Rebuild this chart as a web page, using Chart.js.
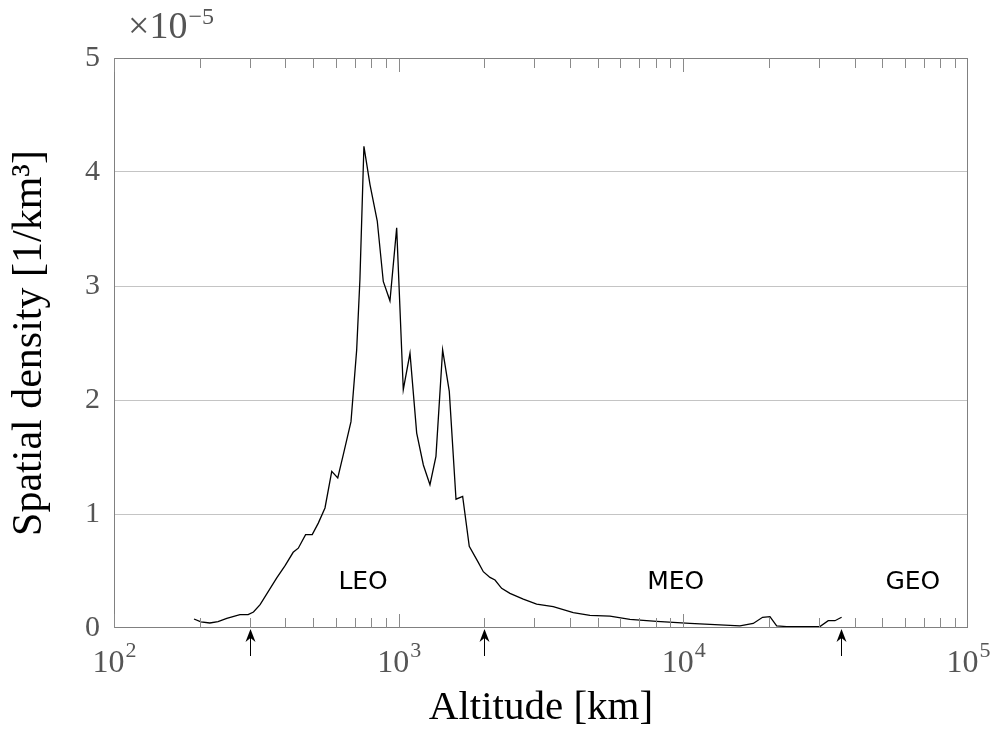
<!DOCTYPE html>
<html>
<head>
<meta charset="utf-8">
<script src="https://cdn.jsdelivr.net/npm/chart.js@4.4.1/dist/chart.umd.min.js"></script>
<style>
  body { margin: 0; background: #fff; }
  #wrap { width: 998px; height: 734px; position: relative; }
</style>
</head>
<body>
<div id="wrap"><canvas id="myChart"></canvas></div>
<script>
// altitude in km, density in units of 1e-5 per km^3
const altitudeKm = [191, 202, 217, 232, 249, 277, 296, 309, 326, 373, 399, 426, 444, 471, 497, 522, 551, 582, 611, 639,
  680, 712, 731, 755, 793, 841, 883, 932, 984, 1038, 1096, 1157, 1221, 1288, 1352, 1427, 1506, 1590, 1678, 1770,
  1904, 1983, 2093, 2180, 2300, 2460, 2740, 3053, 3491, 4106, 4698, 5524, 6492, 8057, 10549, 15808, 17601, 18985,
  20150, 21275, 23063, 30184, 32285, 34080, 35975];
const density = [0.079, 0.053, 0.044, 0.056, 0.085, 0.117, 0.117, 0.14, 0.205, 0.44, 0.547, 0.664, 0.70, 0.819, 0.819, 0.92,
  1.053, 1.374, 1.316, 1.52, 1.81, 2.44, 3.06, 4.225, 3.89, 3.57, 3.04, 2.87, 3.51, 2.09, 2.41, 1.71, 1.43, 1.257, 1.506, 2.44,
  2.076, 1.13, 1.155, 0.716, 0.576, 0.494, 0.444, 0.421, 0.348, 0.304, 0.254, 0.21, 0.187, 0.135, 0.111, 0.105, 0.076,
  0.058, 0.041, 0.018, 0.04, 0.094, 0.1, 0.018, 0.012, 0.012, 0.064, 0.064, 0.094];

const xTickValues = [100, 1000, 10000, 100000];
const xTickExponents = ['2', '3', '4', '5'];
const yTickValues = [0, 1, 2, 3, 4, 5];

// region boundaries marked with arrows, and region names
const boundaryKm = [300, 2000, 35786];
const regionNames = ['LEO', 'MEO', 'GEO'];
const regionCenterKm = [750, 9400, 64000];
const regionLabelY = 0.4;

const points = altitudeKm.map((a, i) => ({ x: a, y: density[i] }));

const serif = '"Liberation Serif", "Times New Roman", serif';

const axisDecor = {
  id: 'axisDecor',
  afterDraw(chart) {
    const { ctx, chartArea: { top, bottom, left, right } } = chart;
    const xs = chart.scales.x;
    ctx.save();

    // frame
    ctx.strokeStyle = '#808080';
    ctx.lineWidth = 1;
    ctx.strokeRect(left + 0.5, top + 0.5, right - left - 1, bottom - top - 1);

    // log ticks, inside the frame at top and bottom
    ctx.strokeStyle = '#8a8a8a';
    for (let k = 2; k <= 4; k++) {
      for (let m = 1; m <= 9; m++) {
        const v = m * Math.pow(10, k);
        const px = Math.round(xs.getPixelForValue(v)) + 0.5;
        const len = m === 1 ? 14 : 10;
        ctx.beginPath();
        ctx.moveTo(px, bottom);
        ctx.lineTo(px, bottom - len);
        ctx.moveTo(px, top);
        ctx.lineTo(px, top + len);
        ctx.stroke();
      }
    }

    // x tick labels 10^n
    ctx.fillStyle = '#555';
    ctx.textBaseline = 'alphabetic';
    ctx.textAlign = 'left';
    xTickValues.forEach((v, i) => {
      const px = xs.getPixelForValue(v);
      ctx.font = '32px ' + serif;
      const w1 = ctx.measureText('10').width;
      ctx.font = '22px ' + serif;
      const w2 = ctx.measureText(xTickExponents[i]).width;
      const x0 = px - (w1 + w2) / 2;
      ctx.font = '32px ' + serif;
      ctx.fillText('10', x0, 672);
      ctx.font = '22px ' + serif;
      ctx.fillText(xTickExponents[i], x0 + w1 + 1, 657);
    });

    // x10^-5 multiplier
    ctx.font = '38px ' + serif;
    ctx.fillText('×10', 128, 38);
    const wm = ctx.measureText('×10').width;
    ctx.font = '24px ' + serif;
    ctx.fillText('−5', 128 + wm + 1, 24);

    // arrows below the axis
    ctx.strokeStyle = '#000';
    ctx.fillStyle = '#000';
    boundaryKm.forEach(v => {
      const px = Math.round(xs.getPixelForValue(v)) + 0.5;
      const tip = bottom + 1;
      ctx.beginPath();
      ctx.moveTo(px, bottom + 28);
      ctx.lineTo(px, tip + 6);
      ctx.stroke();
      ctx.beginPath();
      ctx.moveTo(px, tip);
      ctx.lineTo(px - 5, tip + 13);
      ctx.lineTo(px, tip + 9);
      ctx.lineTo(px + 5, tip + 13);
      ctx.closePath();
      ctx.fill();
    });

    // region names
    const ys = chart.scales.y;
    ctx.font = '25px "DejaVu Sans", sans-serif';
    ctx.textAlign = 'center';
    ctx.textBaseline = 'middle';
    regionNames.forEach((name, i) => {
      ctx.fillText(name, xs.getPixelForValue(regionCenterKm[i]), ys.getPixelForValue(regionLabelY));
    });

    ctx.restore();
  }
};

const data = {
  datasets: [{
    label: 'Spatial density',
    data: points,
    borderColor: '#000',
    borderWidth: 1.3,
    pointRadius: 0,
    tension: 0,
    fill: false
  }]
};

const config = {
  type: 'line',
  data,
  options: {
    responsive: true,
    maintainAspectRatio: false,
    animation: false,
    layout: { padding: { top: 58, right: 30, left: 0, bottom: 0 } },
    plugins: { legend: { display: false }, tooltip: { enabled: false } },
    scales: {
      x: {
        type: 'logarithmic',
        min: 100,
        max: 100000,
        ticks: { display: false },
        grid: { display: false },
        border: { display: false },
        title: {
          display: true,
          text: 'Altitude [km]',
          color: '#000',
          font: { family: serif, size: 41 },
          padding: { top: 0, bottom: 1 }
        },
        afterFit(scale) { scale.height = 106; }
      },
      y: {
        min: 0,
        max: 5,
        afterBuildTicks(scale) { scale.ticks = yTickValues.map(v => ({ value: v })); },
        ticks: {
          color: '#555',
          padding: 14,
          font: { family: serif, size: 30 }
        },
        grid: {
          drawTicks: false,
          color: c => (c.tick.value === 0 || c.tick.value === 5) ? 'rgba(0,0,0,0)' : '#c4c4c4'
        },
        border: { display: false },
        title: {
          display: true,
          text: 'Spatial density [1/km³]',
          color: '#000',
          font: { family: serif, size: 42 },
          padding: { top: 5, bottom: 0 }
        },
        afterFit(scale) { scale.width = 114; }
      }
    }
  },
  plugins: [axisDecor]
};

const myChart = new Chart(document.getElementById('myChart'), config);
</script>
</body>
</html>
